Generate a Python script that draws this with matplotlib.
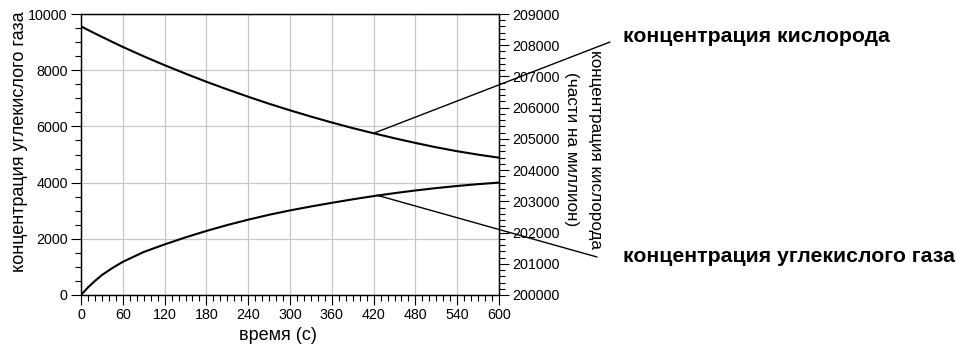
import matplotlib
matplotlib.use("Agg")
import matplotlib.pyplot as plt
from matplotlib.ticker import MultipleLocator

# ---- data ----
time_s = [0, 10, 20, 30, 45, 60, 90, 120, 150, 180, 210, 240, 270, 300,
          330, 360, 390, 420, 450, 480, 510, 540, 570, 600]
co2_ppm = [0, 270, 500, 710, 960, 1180, 1530, 1800, 2050, 2280, 2490, 2680,
           2855, 3010, 3150, 3280, 3405, 3520, 3625, 3720, 3805, 3880, 3945, 4000]
o2_ppm = [208605, 208490, 208378, 208268, 208105, 207945, 207645, 207360, 207090,
          206830, 206585, 206350, 206125, 205915, 205715, 205525, 205345, 205180,
          205020, 204870, 204730, 204605, 204495, 204398]

x_label = "время (с)"
y_left_label = "концентрация углекислого газа"
y_right_label = "концентрация кислорода\n(части на миллион)"
o2_text = "концентрация кислорода"
co2_text = "концентрация углекислого газа"
annot_time = 420

plt.rcParams['font.family'] = ['Liberation Sans', 'DejaVu Sans']

W, H = 956, 349
fig = plt.figure(figsize=(W / 100, H / 100), dpi=100)
x0, x1, y0, y1 = 81, 499, 14, 295
ax = fig.add_axes([x0 / W, 1 - y1 / H, (x1 - x0) / W, (y1 - y0) / H])
ax2 = ax.twinx()

ax.plot(time_s, co2_ppm, color='black', lw=1.5)
ax2.plot(time_s, o2_ppm, color='black', lw=1.5)

ax.set_xlim(0, 600)
ax.set_ylim(0, 10000)
ax2.set_ylim(200000, 209000)

ax.xaxis.set_major_locator(MultipleLocator(60))
ax.xaxis.set_minor_locator(MultipleLocator(10))
ax.yaxis.set_major_locator(MultipleLocator(2000))
ax.yaxis.set_minor_locator(MultipleLocator(500))
ax2.yaxis.set_major_locator(MultipleLocator(1000))
ax2.yaxis.set_minor_locator(MultipleLocator(200))

ax.grid(True, which='major', color='#c8c8c8', lw=0.9)
ax.set_axisbelow(True)

for a in (ax, ax2):
    a.tick_params(which='major', direction='out', length=7.5, width=0.8, labelsize=10.3, pad=2)
    a.tick_params(which='minor', direction='out', length=4, width=0.8)
    for s in a.spines.values():
        s.set_color('black')
        s.set_linewidth(0.9)

ax.set_xlabel(x_label, fontsize=13, va='center', ha='center')
ax.xaxis.set_label_coords((278 - x0) / (x1 - x0), (y1 - 335) / (y1 - y0))
ax.set_ylabel(y_left_label, fontsize=13, va='center', ha='center')
ax.yaxis.set_label_coords((20 - x0) / (x1 - x0), (y1 - 142) / (y1 - y0))
ax2.set_ylabel(y_right_label, fontsize=12.3, rotation=270, va='center', ha='center',
               linespacing=1.75)
ax2.yaxis.set_label_coords((583 - x0) / (x1 - x0), (y1 - 149) / (y1 - y0))

i = time_s.index(annot_time)
ax2.annotate('', xy=(annot_time, o2_ppm[i]), xycoords='data',
             xytext=(610 / W, 1 - 42 / H), textcoords='figure fraction',
             arrowprops=dict(arrowstyle='-', lw=1.0, color='black', shrinkA=0, shrinkB=0))
ax.annotate('', xy=(annot_time + 5, co2_ppm[i] + 30), xycoords='data',
            xytext=(597 / W, 1 - 257 / H), textcoords='figure fraction',
            arrowprops=dict(arrowstyle='-', lw=1.0, color='black', shrinkA=0, shrinkB=0))
fig.text(623 / W, 1 - 37 / H, o2_text, fontsize=15.3, fontweight='bold', ha='left', va='center')
fig.text(623 / W, 1 - 256 / H, co2_text, fontsize=15.3, fontweight='bold', ha='left', va='center')

fig.savefig('out.png', dpi=100)
